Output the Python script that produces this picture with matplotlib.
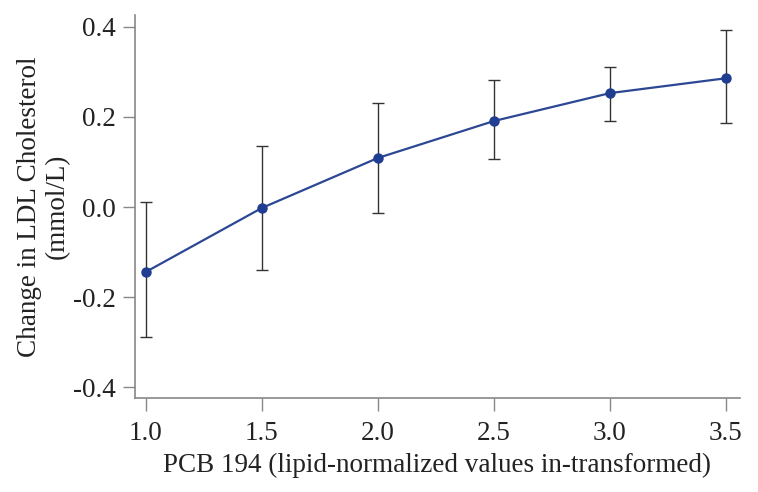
import numpy as np
import matplotlib
matplotlib.use('Agg')
import matplotlib.pyplot as plt

# values
pcb = [1.0, 1.5, 2.0, 2.5, 3.0, 3.5]
ldl_change = [-0.144, -0.002, 0.109, 0.191, 0.253, 0.286]
ci_upper = [0.011, 0.136, 0.232, 0.282, 0.311, 0.393]
ci_lower = [-0.289, -0.140, -0.013, 0.107, 0.190, 0.186]

xticks = [1.0, 1.5, 2.0, 2.5, 3.0, 3.5]
yticks = [-0.4, -0.2, 0.0, 0.2, 0.4]

plt.rcParams['font.family'] = ['Liberation Serif', 'DejaVu Serif']
plt.rcParams['axes.unicode_minus'] = False

fig = plt.figure(figsize=(7.58, 4.92), dpi=100)
ax = fig.add_axes([0.178, 0.191, 0.798, 0.779])

y = np.array(ldl_change)
yerr = [y - np.array(ci_lower), np.array(ci_upper) - y]

ax.errorbar(pcb, y, yerr=yerr, fmt='none', ecolor='#333333',
            elinewidth=1.0, capsize=4.5, capthick=1.0, zorder=2)
ax.plot(pcb, y, color='#2c4793', lw=1.6, marker='o', markersize=6.5,
        markerfacecolor='#1f3d91', markeredgecolor='#1f3d91', zorder=3)

ax.set_xlim(0.953, 3.56)
ax.set_ylim(-0.424, 0.427)
ax.set_xticks(xticks)
ax.set_xticklabels([f'{v:.1f}' for v in xticks])
ax.set_yticks(yticks)
ax.set_yticklabels([f'{v:.1f}' for v in yticks])

for side in ['top', 'right']:
    ax.spines[side].set_visible(False)
for side in ['left', 'bottom']:
    ax.spines[side].set_color('#888888')
    ax.spines[side].set_linewidth(1.2)

ax.tick_params(axis='both', direction='out', length=9, width=1.0,
               color='#888888', labelsize=19.5, labelcolor='#222222', pad=5)
ax.tick_params(axis='x', pad=7.5)

ax.set_xlabel('PCB 194 (lipid-normalized values in-transformed)',
              fontsize=19.5, color='#222222', labelpad=5)
ax.set_ylabel('Change in LDL Cholesterol\n(mmol/L)', fontsize=19.5,
              color='#222222', labelpad=2, linespacing=1.15)

fig.savefig('out.png', dpi=100)
